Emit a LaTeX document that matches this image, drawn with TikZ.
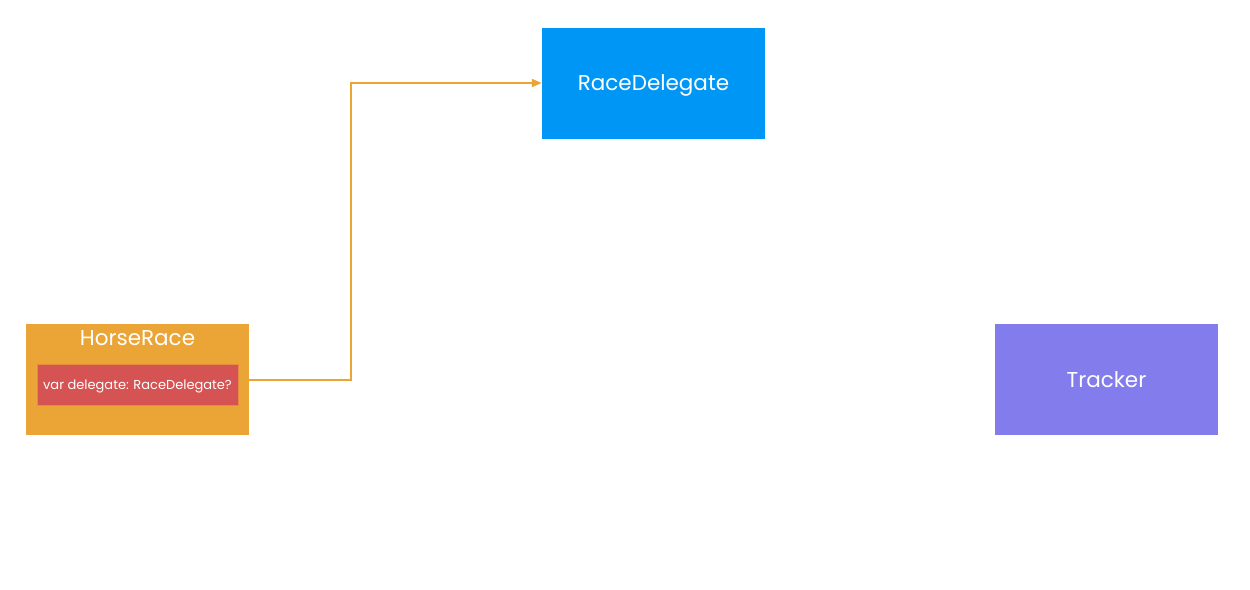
\documentclass[tikz,border=0pt]{standalone}
\usepackage{fontspec}
\setmainfont{Poppins}
\usetikzlibrary{arrows.meta}
\definecolor{delegateblue}{HTML}{0096F6}
\definecolor{raceorange}{HTML}{EBA536}
\definecolor{propred}{HTML}{D65353}
\definecolor{trackerviolet}{HTML}{837CEC}
\tikzset{
  class box/.style = {minimum width=223, minimum height=111, inner sep=0pt,
    text depth=0pt, text=white, font=\fontsize{21.5}{25}\selectfont}
}
\tikzset{
  prop box/.style = {fill=propred, draw=raceorange!70!propred, line width=0.8,
    minimum width=201, minimum height=41, inner sep=0pt, text depth=0pt,
    text=white, font=\fontsize{13}{15}\selectfont}
}
\tikzset{
    >={Triangle[length=10, width=8]}
}

\begin{document}
\begin{tikzpicture}[x=1pt, y=-1pt]
  \useasboundingbox (0,0) rectangle (1250,589);

  \node[class box, fill=delegateblue] (delegate) at (653.5,83) {RaceDelegate};
  \node[class box, fill=raceorange] (race) at (137.5,379.5) {};
  \node[white, font=\fontsize{21.5}{25}\selectfont] (racetitle) at (137.5,338) {HorseRace};
  \node[prop box] (prop) at (137.5,384.5) {var delegate: RaceDelegate?};
  \node[class box, fill=trackerviolet] (tracker) at (1106.5,379.5) {Tracker};

  \draw[->, raceorange, line width=2] (race.east) -- ++(102,0) |- (delegate.west);
\end{tikzpicture}
\end{document}
